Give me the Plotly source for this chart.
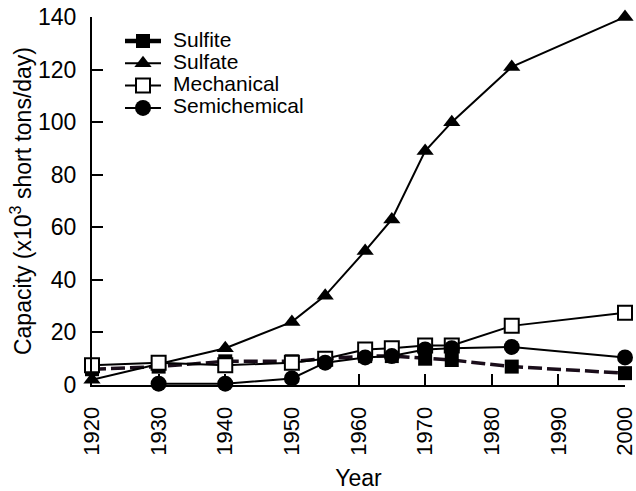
import plotly.graph_objects as go

# Pulp mill capacity by process, thousand short tons per day
years_sulfite = [1920, 1930, 1940, 1950, 1955, 1961, 1965, 1970, 1974, 1983, 2000]
sulfite = [6, 7, 9, 9, 10, 11, 11, 10, 9.5, 7, 4.5]

years_sulfate = [1920, 1940, 1950, 1955, 1961, 1965, 1970, 1974, 1983, 2000]
sulfate = [2, 14, 24, 34, 51, 63, 89, 100, 121, 140]

years_mechanical = [1920, 1930, 1940, 1950, 1955, 1961, 1965, 1970, 1974, 1983, 2000]
mechanical = [7.5, 8.5, 7.5, 8.5, 10, 13.5, 14, 15, 15, 22.5, 27.5]

years_semichemical = [1930, 1940, 1950, 1955, 1961, 1965, 1970, 1974, 1983, 2000]
semichemical = [0.5, 0.5, 2.5, 8.5, 10.5, 11, 13.5, 14, 14.5, 10.5]

series_names = ["Sulfite", "Sulfate", "Mechanical", "Semichemical"]

FONT = "Liberation Sans, Arial, sans-serif"
W, H = 636, 491
ML, MR, MT, MB = 92, 11, 17, 106

styles = {
    "Sulfite": dict(
        line=dict(color="#1a0d1a", width=3.5, dash="14px,5px"),
        marker=dict(symbol="square", size=14, color="black"),
        key_line=dict(color="black", width=4.5),
    ),
    "Sulfate": dict(
        line=dict(color="black", width=2),
        marker=dict(symbol="triangle-up", size=15, color="black"),
        key_line=dict(color="black", width=2),
    ),
    "Mechanical": dict(
        line=dict(color="black", width=2),
        marker=dict(symbol="square", size=14, color="white",
                    line=dict(color="black", width=2)),
        key_line=dict(color="black", width=2),
    ),
    "Semichemical": dict(
        line=dict(color="black", width=2),
        marker=dict(symbol="circle", size=16, color="black"),
        key_line=dict(color="black", width=2),
    ),
}

data = {
    "Sulfite": (years_sulfite, sulfite),
    "Sulfate": (years_sulfate, sulfate),
    "Mechanical": (years_mechanical, mechanical),
    "Semichemical": (years_semichemical, semichemical),
}

fig = go.Figure()

for name in series_names:
    xs, ys = data[name]
    st = styles[name]
    fig.add_trace(go.Scatter(
        x=xs, y=ys, name=name, mode="lines+markers",
        line=st["line"], marker=st["marker"],
        cliponaxis=False, showlegend=False,
    ))

# Compact legend drawn on an overlay axis measured in pixels of the page
key_x0, key_x1, key_xm = 125, 161, 143
text_x = 171
row_y0, row_step = 41, 22.3
for i, name in enumerate(series_names):
    st = styles[name]
    ry = row_y0 + i * row_step
    fig.add_trace(go.Scatter(
        x=[key_x0, key_x1], y=[ry, ry], mode="lines",
        line=st["key_line"], xaxis="x2", yaxis="y2",
        showlegend=False, hoverinfo="skip", cliponaxis=False,
    ))
    fig.add_trace(go.Scatter(
        x=[key_xm], y=[ry], mode="markers",
        marker=st["marker"], xaxis="x2", yaxis="y2",
        showlegend=False, hoverinfo="skip", cliponaxis=False,
    ))
    fig.add_annotation(
        x=text_x, y=ry - 2, xref="x2", yref="y2", text=name,
        showarrow=False, xanchor="left", yanchor="middle",
        font=dict(family=FONT, size=21, color="black"),
    )

fig.update_layout(
    width=W, height=H,
    margin=dict(l=ML, r=MR, t=MT, b=MB, autoexpand=False),
    plot_bgcolor="white", paper_bgcolor="white",
    font=dict(family=FONT, size=23, color="black"),
    showlegend=False,
    xaxis=dict(
        range=[1920, 2000], tick0=1920, dtick=10,
        showline=True, linecolor="black", linewidth=2,
        ticks="inside", ticklen=11, tickwidth=2, tickcolor="black",
        tickangle=-90, showgrid=False, zeroline=False,
        tickfont=dict(size=22),
        ticklabelstandoff=11, ticklabeloverflow="allow",
        automargin=False,
        title=dict(text="Year", font=dict(size=23), standoff=17),
    ),
    yaxis=dict(
        range=[0, 140], tick0=0, dtick=20,
        showline=True, linecolor="black", linewidth=2,
        ticks="inside", ticklen=11, tickwidth=2, tickcolor="black",
        showgrid=False, zeroline=False,
        ticklabelstandoff=9, automargin=False,
        title=dict(text="Capacity (x10<sup>3</sup> short tons/day)",
                   font=dict(size=23), standoff=0),
    ),
    xaxis2=dict(
        overlaying="x", range=[ML, W - MR], visible=False, fixedrange=True,
    ),
    yaxis2=dict(
        overlaying="y", range=[H - MB, MT], visible=False, fixedrange=True,
    ),
)

fig.write_html("out.html")
